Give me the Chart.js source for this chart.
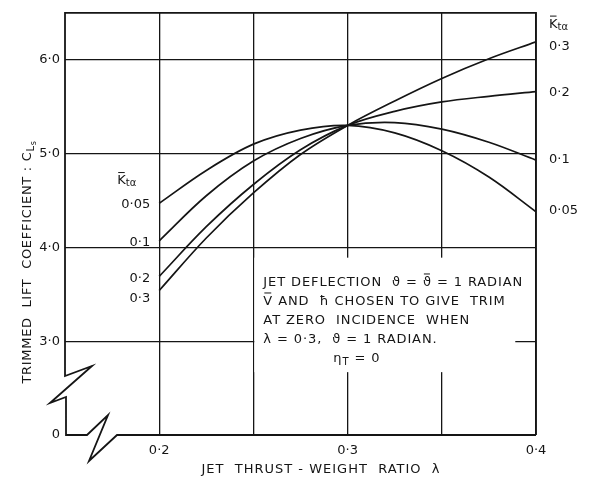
<!DOCTYPE html>
<html>
<head>
<meta charset="utf-8">
<script src="https://cdn.jsdelivr.net/npm/chart.js@4/dist/chart.umd.min.js"></script>
<style>
  html, body { margin: 0; padding: 0; background: #fff; }
  #wrap { width: 593px; height: 483px; position: relative; }
</style>
</head>
<body>
<div id="wrap"><canvas id="chart"></canvas></div>
<script>
// ── data ──

// jet thrust-weight ratio λ
const lambda = [0.2, 0.225, 0.25, 0.275, 0.3, 0.325, 0.35, 0.375, 0.4];

// trimmed lift coefficient C_Ls, one curve per K̄tα
const cls005 = [4.47, 4.82, 5.10, 5.25, 5.30, 5.22, 5.03, 4.75, 4.38];
const cls01  = [4.07, 4.55, 4.92, 5.16, 5.30, 5.33, 5.26, 5.12, 4.93];
const cls02  = [3.69, 4.22, 4.67, 5.04, 5.30, 5.45, 5.55, 5.61, 5.66];
const cls03  = [3.54, 4.10, 4.58, 4.99, 5.30, 5.56, 5.80, 6.01, 6.19];

const kValues = ["0·05", "0·1", "0·2", "0·3"];

// tick labels keyed by value*100 (x) and value (y); y axis is broken below 3·0
const xTickLabels = { 20: "0·2", 30: "0·3", 40: "0·4" };
const yTickLabels = { 2: "0", 3: "3·0", 4: "4·0", 5: "5·0", 6: "6·0" };

// note box corners in data units (λ, C_Ls)
const noteBox = { x0: 0.2505, x1: 0.389, y0: 2.67, y1: 3.89 };

// ── helpers ──

const FONT = '"DejaVu Sans", sans-serif';
const INK = "#151515";

function setFont(ctx, size) {
  ctx.font = `${size}px ${FONT}`;
}

function runsWidth(ctx, runs) {
  let w = 0;
  for (const r of runs) {
    setFont(ctx, r.size);
    w += ctx.measureText(r.t).width;
  }
  return w;
}

// draws text made of runs {t, size, dy, bar}; bar puts an overline on the run
function drawRuns(ctx, x, y, runs, align = "left", spacing = 0) {
  ctx.letterSpacing = `${spacing}px`;
  const total = runsWidth(ctx, runs);
  let cx = align === "center" ? x - total / 2 : align === "right" ? x - total : x;
  ctx.textAlign = "left";
  ctx.textBaseline = "alphabetic";
  for (const r of runs) {
    setFont(ctx, r.size);
    const w = ctx.measureText(r.t).width;
    const by = y + (r.dy || 0);
    ctx.fillText(r.t, cx, by);
    if (r.bar) {
      ctx.beginPath();
      ctx.lineWidth = 1;
      ctx.moveTo(cx + 1, by - r.size * 0.9);
      ctx.lineTo(cx + w - 1 - spacing, by - r.size * 0.9);
      ctx.stroke();
    }
    cx += w;
  }
  ctx.letterSpacing = "0px";
}

function kLabel(ctx, x, y) {
  drawRuns(ctx, x, y, [
    { t: "K", size: 13, bar: true },
    { t: "tα", size: 10, dy: 2 },
  ]);
}

// ── drafting plugin: note box, broken frame, curve labels, axis titles ──

const drafting = {
  id: "drafting",
  beforeDatasetsDraw(chart) {
    const { ctx, chartArea: a, scales: { x, y } } = chart;
    ctx.save();

    // note box blanks out the grid behind it
    const bx0 = x.getPixelForValue(noteBox.x0), bx1 = x.getPixelForValue(noteBox.x1);
    const by0 = y.getPixelForValue(noteBox.y1), by1 = y.getPixelForValue(noteBox.y0);
    ctx.fillStyle = "#fff";
    ctx.fillRect(bx0, by0, bx1 - bx0, by1 - by0);

    // frame with break marks on the left and bottom edges
    const L = a.left, B = a.bottom, T = a.top, R = a.right;
    ctx.strokeStyle = INK;
    ctx.lineWidth = 1.8;
    ctx.lineJoin = "miter";
    ctx.beginPath();
    ctx.moveTo(R, B);
    ctx.lineTo(R, T);
    ctx.lineTo(L, T);
    ctx.lineTo(L, B - 59);
    ctx.lineTo(L + 27, B - 69);
    ctx.lineTo(L - 15, B - 32);
    ctx.lineTo(L + 1, B - 38);
    ctx.lineTo(L + 1, B);
    ctx.lineTo(L + 22, B);
    ctx.lineTo(L + 43, B - 20);
    ctx.lineTo(L + 24, B + 26);
    ctx.lineTo(L + 52, B);
    ctx.lineTo(R, B);
    ctx.stroke();

    // note text
    ctx.fillStyle = INK;
    ctx.strokeStyle = INK;
    const tx = bx0 + 9;
    const s = 13;
    const sp = 0.9;
    drawRuns(ctx, tx, by0 + 28, [
      { t: "JET DEFLECTION  ", size: s },
      { t: "ϑ", size: s },
      { t: " = ", size: s },
      { t: "ϑ", size: s, bar: true },
      { t: " = 1 RADIAN", size: s },
    ], "left", sp);
    drawRuns(ctx, tx, by0 + 47, [
      { t: "V", size: s, bar: true },
      { t: " AND  ", size: s },
      { t: "ħ", size: s },
      { t: " CHOSEN TO GIVE  TRIM", size: s },
    ], "left", sp);
    drawRuns(ctx, tx, by0 + 66, [{ t: "AT ZERO  INCIDENCE  WHEN", size: s }], "left", sp);
    drawRuns(ctx, tx, by0 + 85, [
      { t: "λ = 0·3,  ", size: s },
      { t: "ϑ", size: s },
      { t: " = 1 RADIAN.", size: s },
    ], "left", sp);
    drawRuns(ctx, tx + 70, by0 + 104, [
      { t: "η", size: s },
      { t: "T", size: 10, dy: 3 },
      { t: " = 0", size: s },
    ], "left", sp);

    ctx.restore();
  },

  afterDraw(chart) {
    const { ctx, chartArea: a, scales: { x, y } } = chart;
    ctx.save();
    ctx.fillStyle = INK;
    ctx.strokeStyle = INK;

    // K̄tα values at both ends of each curve
    const xl = x.getPixelForValue(lambda[0]);
    const xr = x.getPixelForValue(lambda[lambda.length - 1]);
    const leftNudge = [1, 2, 2, 8];
    const rightNudge = [-1, 0, 1, 5];
    chart.data.datasets.forEach((ds, i) => {
      const first = ds.data[0].y, last = ds.data[ds.data.length - 1].y;
      setFont(ctx, 13);
      ctx.textBaseline = "middle";
      ctx.textAlign = "right";
      ctx.fillText(kValues[i], xl - 9, y.getPixelForValue(first) + leftNudge[i]);
      ctx.textAlign = "left";
      ctx.fillText(kValues[i], xr + 13, y.getPixelForValue(last) + rightNudge[i]);
    });
    kLabel(ctx, xl - 42, y.getPixelForValue(cls005[0]) - 19);
    kLabel(ctx, xr + 13, a.top + 15);

    // axis titles
    drawRuns(ctx, 321, 473, [{ t: "JET  THRUST - WEIGHT  RATIO  λ", size: 13 }], "center", 1);

    ctx.translate(31, 262);
    ctx.rotate(-Math.PI / 2);
    drawRuns(ctx, 0, 0, [
      { t: "TRIMMED  LIFT  COEFFICIENT : C", size: 13 },
      { t: "L", size: 10, dy: 3 },
      { t: "s", size: 8, dy: 5 },
    ], "center", 0.7);

    ctx.restore();
  },
};

// ── chart ──

const series = [cls005, cls01, cls02, cls03];

new Chart(document.getElementById("chart"), {
  type: "line",
  data: {
    datasets: series.map((vals, i) => ({
      label: kValues[i],
      data: lambda.map((lx, j) => ({ x: lx, y: vals[j] })),
      borderColor: INK,
      borderWidth: 1.7,
      pointRadius: 0,
      tension: 0.35,
      fill: false,
    })),
  },
  options: {
    responsive: true,
    maintainAspectRatio: false,
    animation: false,
    layout: { padding: { left: 0, right: 57, top: 10, bottom: 0 } },
    plugins: {
      legend: { display: false },
      tooltip: { enabled: false },
    },
    scales: {
      x: {
        type: "linear",
        min: 0.15,
        max: 0.4,
        afterFit: (s) => { s.height = 48; },
        border: { display: false },
        grid: {
          drawTicks: false,
          lineWidth: 1.3,
          color: (c) => (Math.round(c.tick.value * 100) === 15 ? "rgba(0,0,0,0)" : INK),
        },
        ticks: {
          stepSize: 0.05,
          autoSkip: false,
          maxRotation: 0,
          padding: 8,
          color: INK,
          font: { family: "DejaVu Sans", size: 13 },
          callback: (v) => xTickLabels[Math.round(v * 100)] || "",
        },
      },
      y: {
        min: 2,
        max: 6.5,
        afterFit: (s) => { s.width = 65; },
        border: { display: false },
        grid: {
          drawTicks: false,
          lineWidth: 1.3,
          color: (c) => (c.tick.value === 2 ? "rgba(0,0,0,0)" : INK),
        },
        ticks: {
          stepSize: 1,
          includeBounds: false,
          padding: 5,
          color: INK,
          font: { family: "DejaVu Sans", size: 13 },
          callback: (v) => yTickLabels[v] || "",
        },
      },
    },
  },
  plugins: [drafting],
});
</script>
</body>
</html>
